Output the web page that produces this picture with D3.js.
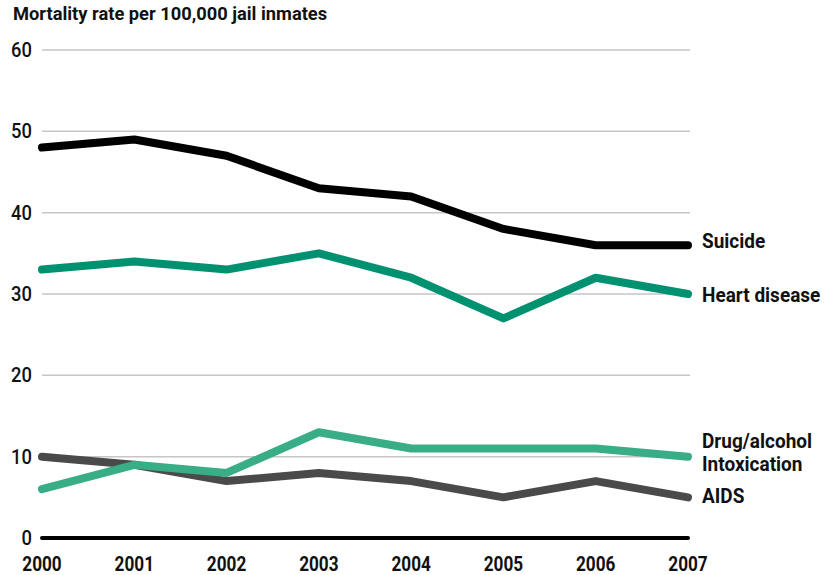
<!DOCTYPE html>
<html>
<head>
<meta charset="utf-8">
<script src="https://cdn.jsdelivr.net/npm/d3@7"></script>
<style>
  body { margin: 0; background: #fff; }
  text { font-family: "Roboto", "Liberation Sans", sans-serif; fill: #111; }
</style>
</head>
<body>
<script>
const w = 838;
const h = 575;

const years = [2000, 2001, 2002, 2003, 2004, 2005, 2006, 2007];
const yTicks = [0, 10, 20, 30, 40, 50, 60];
const suicide = [48, 49, 47, 43, 42, 38, 36, 36];
const heartDisease = [33, 34, 33, 35, 32, 27, 32, 30];
const drugAlcohol = [6, 9, 8, 13, 11, 11, 11, 10];
const aids = [10, 9, 7, 8, 7, 5, 7, 5];

const seriesList = [
  {name: ["AIDS"], values: aids, color: "#4a4a4a"},
  {name: ["Drug/alcohol", "Intoxication"], values: drugAlcohol, color: "#38ad86"},
  {name: ["Heart disease"], values: heartDisease, color: "#009270"},
  {name: ["Suicide"], values: suicide, color: "#000000"}
];
// baseline offset of each end label from its last point
const labelShift = {"AIDS": 6, "Drug/alcohol": -9, "Heart disease": 8, "Suicide": 3};

const sxNum = 0.86; // digits are narrow in the original face

const x = d3.scaleLinear().domain([2000, 2007]).range([42, 688]);
const y = d3.scaleLinear().domain([0, 60]).range([538, 50]);

//Create SVG element
const svg = d3.select("body")
  .append("svg")
  .attr("width", w)
  .attr("height", h);

svg.append("text")
  .attr("transform", "translate(13,20)")
  .attr("font-size", 18.3)
  .attr("font-weight", "bold")
  .text("Mortality rate per 100,000 jail inmates");

// gridlines
svg.append("g")
  .selectAll("line")
  .data(yTicks.filter(d => d > 0))
  .enter().append("line")
  .attr("x1", 42)
  .attr("x2", 690)
  .attr("y1", d => y(d))
  .attr("y2", d => y(d))
  .attr("stroke", "#c6c6c6")
  .attr("stroke-width", 1.5);

// y labels
svg.append("g")
  .selectAll("text")
  .data(yTicks)
  .enter().append("text")
  .attr("transform", d => `translate(32,${y(d) + 7}) scale(0.92,1)`)
  .attr("text-anchor", "end")
  .attr("font-size", 20)
  .attr("font-weight", 500)
  .text(d => d);

// zero line
svg.append("line")
  .attr("x1", x(2000))
  .attr("x2", x(2007))
  .attr("y1", y(0))
  .attr("y2", y(0))
  .attr("stroke", "#000")
  .attr("stroke-width", 4)
  .attr("stroke-linecap", "round");

// x labels
svg.append("g")
  .selectAll("text")
  .data(years)
  .enter().append("text")
  .attr("transform", d => `translate(${x(d)},571) scale(${sxNum},1)`)
  .attr("text-anchor", "middle")
  .attr("font-size", 20)
  .attr("font-weight", "bold")
  .text(d => d);

const line = d3.line()
  .x((d, i) => x(years[i]))
  .y(d => y(d));

svg.append("g")
  .selectAll("path")
  .data(seriesList)
  .enter().append("path")
  .attr("d", d => line(d.values))
  .attr("fill", "none")
  .attr("stroke", d => d.color)
  .attr("stroke-width", 8)
  .attr("stroke-linecap", "round")
  .attr("stroke-linejoin", "round");

// series labels
const labels = svg.append("g")
  .selectAll("text")
  .data(seriesList)
  .enter().append("text")
  .attr("transform", d => `translate(702,${y(d.values[d.values.length - 1]) + labelShift[d.name[0]]}) scale(0.95,1)`)
  .attr("font-size", 20)
  .attr("font-weight", "bold");

labels.selectAll("tspan")
  .data(d => d.name)
  .enter().append("tspan")
  .attr("x", 0)
  .attr("dy", (d, i) => i === 0 ? 0 : 23)
  .text(d => d);
</script>
</body>
</html>
